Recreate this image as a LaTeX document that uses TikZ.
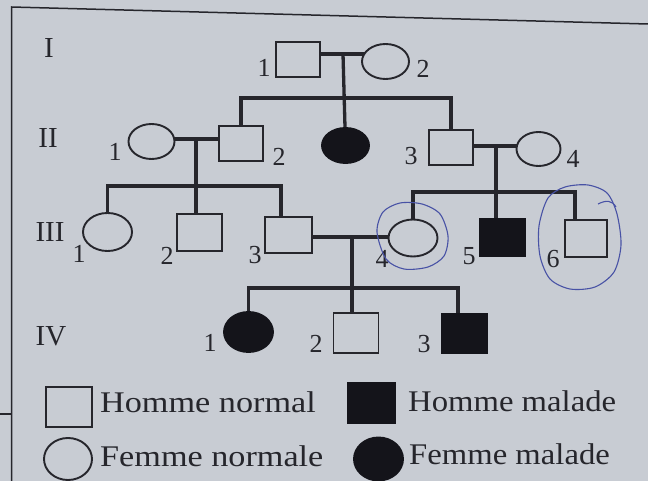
\documentclass[tikz,border=0pt]{standalone}
\usepackage{fontspec}
\setmainfont{Liberation Serif}
\usepackage{graphicx}
\usetikzlibrary{shapes.geometric}
\definecolor{paper}{RGB}{200,204,211}
\definecolor{ink}{RGB}{38,38,44}
\definecolor{solid}{RGB}{20,20,26}
\definecolor{pen}{RGB}{72,82,165}
\pgfdeclarelayer{paperlayer}
\pgfdeclarelayer{linelayer}
\pgfsetlayers{paperlayer,linelayer,main}
\newcommand{\legtxt}[1]{\scalebox{1.09}[1]{#1}}
\newcommand{\legtxtw}[1]{\scalebox{1.14}[1]{#1}}
\begin{document}
\begin{tikzpicture}[x=1pt,y=-1pt,
  male/.style={rectangle,draw=ink,line width=1.9pt,fill=paper,inner sep=0pt,minimum width=44pt,minimum height=36pt},
  female/.style={ellipse,draw=ink,line width=1.9pt,fill=paper,inner sep=0pt,minimum width=47pt,minimum height=36pt},
  ill/.style={fill=solid,draw=solid},
  rel/.style={draw=ink,line width=3.3pt},
  frameline/.style={draw=ink,line width=1.5pt},
  genlbl/.style={text=ink,inner sep=0pt,anchor=base,font=\fontsize{29}{29}\selectfont},
  idlbl/.style={text=ink,inner sep=0pt,anchor=base,font=\fontsize{26}{26}\selectfont},
  legtext/.style={text=ink,inner sep=0pt,anchor=base west,font=\fontsize{30}{30}\selectfont},
  penline/.style={draw=pen,line width=1.1pt}]
\useasboundingbox (0,0) rectangle (648,481);
\begin{pgfonlayer}{paperlayer}
\fill[paper] (0,0) rectangle (648,481);
\end{pgfonlayer}

% generation labels
\node[genlbl] (gI) at (49,58) {I};
\node[genlbl] (gII) at (48,148) {II};
\node[genlbl] (gIII) at (50,241) {III};
\node[genlbl] (gIV) at (51,345) {IV};

% generation I
\node[male,minimum width=44pt,minimum height=35pt] (I1) at (298,59.5) {};
\node[female,minimum width=47pt,minimum height=35pt] (I2) at (385.5,61.5) {};
\node[idlbl] (nI1) at (264,77) {1};
\node[idlbl] (nI2) at (423,78) {2};

% generation II
\node[female,minimum width=46pt,minimum height=35pt] (II1) at (151.5,141.5) {};
\node[male,minimum width=44pt,minimum height=35pt] (II2) at (241,143.5) {};
\node[female,ill,minimum width=47pt,minimum height=35pt] (IIx) at (345.5,145.5) {};
\node[male,minimum width=44pt,minimum height=35pt] (II3) at (451,147.5) {};
\node[female,minimum width=44pt,minimum height=34pt] (II4) at (538.5,149) {};
\node[idlbl] (nII1) at (115,161) {1};
\node[idlbl] (nII2) at (279,166) {2};
\node[idlbl] (nII3) at (411,165) {3};
\node[idlbl] (nII4) at (573,168) {4};

% generation III
\node[female,minimum width=49pt,minimum height=38pt] (III1) at (107.5,232) {};
\node[male,minimum width=45pt,minimum height=37pt] (III2) at (199.5,232.5) {};
\node[male,minimum width=47pt,minimum height=36pt] (III3) at (288.5,235) {};
\node[female,minimum width=49pt,minimum height=37pt] (III4) at (413,238) {};
\node[male,ill,minimum width=45pt,minimum height=37pt] (III5) at (502.5,237.5) {};
\node[male,minimum width=42pt,minimum height=37pt] (III6) at (586,238.5) {};
\node[idlbl] (nIII1) at (79,262) {1};
\node[idlbl] (nIII2) at (167,265) {2};
\node[idlbl] (nIII3) at (255,264) {3};
\node[idlbl] (nIII4) at (382,267) {4};
\node[idlbl] (nIII5) at (469,265) {5};
\node[idlbl] (nIII6) at (553,267) {6};

% generation IV
\node[female,ill,minimum width=49pt,minimum height=40pt] (IV1) at (248.5,332) {};
\node[male,minimum width=45pt,minimum height=40pt] (IV2) at (356,333) {};
\node[male,ill,minimum width=45pt,minimum height=39pt] (IV3) at (464.5,333.5) {};
\node[idlbl] (nIV1) at (210,351) {1};
\node[idlbl] (nIV2) at (316,352) {2};
\node[idlbl] (nIV3) at (424,352) {3};

% legend
\node[male,minimum width=46pt,minimum height=40pt] (LM) at (69,407) {};
\node[male,ill,minimum width=47pt,minimum height=40pt] (LMa) at (371.5,403) {};
\node[female,minimum width=48pt,minimum height=42pt] (LF) at (68,459) {};
\node[female,ill,minimum width=49pt,minimum height=43pt] (LFa) at (378.5,459) {};
\node[legtext] (tLM) at (100,412) {\legtxtw{Homme normal}};
\node[legtext] (tLMa) at (408,411) {\legtxt{Homme malade}};
\node[legtext] (tLF) at (100,466) {\legtxtw{Femme normale}};
\node[legtext] (tLFa) at (409,464) {\legtxt{Femme malade}};

% junction points
\coordinate (mI) at (343,54);
\coordinate (sII) at (343,98);
\coordinate (mIIl) at (196,139);
\coordinate (sIIIl) at (196,186);
\coordinate (dIII3) at (281,230);
\coordinate (mIIr) at (496,146);
\coordinate (sIIIr) at (496,192);
\coordinate (dIII6) at (575,230);
\coordinate (mIII) at (352,237);
\coordinate (sIV) at (352,288);
\coordinate (dIV3) at (458,330);

\begin{pgfonlayer}{linelayer}
% frame
\draw[frameline] (11.5,481) -- (11.5,7) -- (648,24);
\draw[frameline] (0,414) -- (11.5,414);
% family I
\draw[rel] (I1.center |- mI) -- (I2.center |- mI);
\draw[rel] (mI) -- (IIx.center);
\draw[rel] (II2.center) |- (sII) -| (II3.center);
% family II left
\draw[rel] (II1.center |- mIIl) -- (II2.center |- mIIl);
\draw[rel] (mIIl) -- (mIIl |- III2.center);
\draw[rel] (III1.center) |- (sIIIl) -| (dIII3);
% family II right
\draw[rel] (II3.center |- mIIr) -- (II4.center |- mIIr);
\draw[rel] (mIIr) -- (mIIr |- III5.center);
\draw[rel] (III4.center) |- (sIIIr) -| (dIII6);
% family III
\draw[rel] (III3.center |- mIII) -- (III4.center |- mIII);
\draw[rel] (mIII) -- (mIII |- IV2.center);
\draw[rel] (IV1.center) |- (sIV) -| (dIV3);
\end{pgfonlayer}

% hand-drawn pen loops
\draw[penline] plot[smooth cycle] coordinates {(377,232) (383,212) (400,203) (422,204) (440,214) (448,236) (444,256) (428,267) (404,269) (386,259)};
\draw[penline] plot[smooth cycle] coordinates {(548,198) (565,187) (588,185) (607,193) (617,214) (621,245) (614,272) (595,287) (570,289) (550,279) (540,256) (539,226)};
\draw[penline] (598,204) .. controls (606,200) and (612,200) .. (616,207);
\end{tikzpicture}
\end{document}
